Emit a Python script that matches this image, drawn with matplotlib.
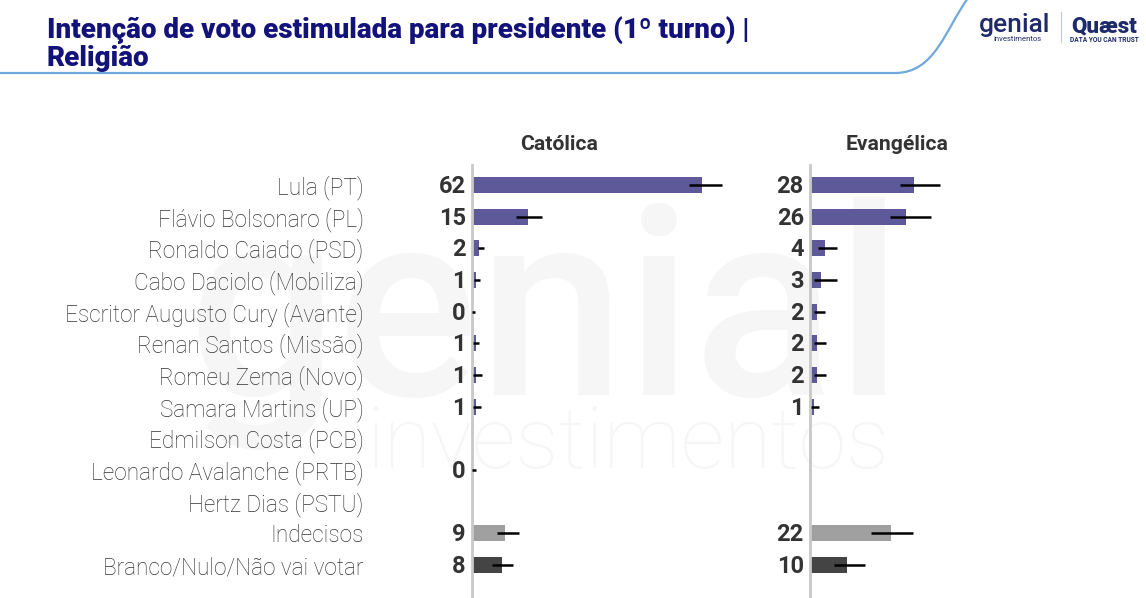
### Intenção de voto estimulada para presidente (1º turno) | Religião

import numpy as np
from matplotlib import pyplot as plt
from matplotlib.path import Path
from matplotlib.patches import PathPatch

################################################################################
### Data
################################################################################

candidates = ['Lula (PT)', 'Flávio Bolsonaro (PL)', 'Ronaldo Caiado (PSD)',
              'Cabo Daciolo (Mobiliza)', 'Escritor Augusto Cury (Avante)',
              'Renan Santos (Missão)', 'Romeu Zema (Novo)', 'Samara Martins (UP)',
              'Edmilson Costa (PCB)', 'Leonardo Avalanche (PRTB)',
              'Hertz Dias (PSTU)', 'Indecisos', 'Branco/Nulo/Não vai votar']

groups = ['Católica', 'Evangélica']

# None = no answer shown for this row
catolica = [62, 15, 2, 1, 0, 1, 1, 1, None, 0, None, 9, 8]
catolica_lo = [58.7, 11.9, 1.5, 0.5, 0.0, 0.3, 0.3, 0.3, None, 0.0, None, 6.7, 5.4]
catolica_hi = [67.6, 18.8, 3.3, 2.2, 0.7, 2.0, 2.7, 2.3, None, 1.2, None, 12.7, 11.2]

evangelica = [28, 26, 4, 3, 2, 2, 2, 1, None, None, None, 22, 10]
evangelica_lo = [24.2, 21.7, 2.2, 1.1, 1.1, 1.0, 1.0, 0.3, None, None, None, 16.5, 6.5]
evangelica_hi = [35.0, 32.7, 7.3, 7.3, 4.0, 4.4, 4.4, 2.4, None, None, None, 27.8, 14.8]

################################################################################
### Style
################################################################################

plt.rcParams['font.family'] = ['Roboto', 'DejaVu Sans']

purple = '#5e5a99'
light_gray = '#a0a0a0'
dark_gray = '#444444'
text_col = '#333333'
navy = '#12127a'

bar_colors = [purple] * 11 + [light_gray, dark_gray]

W, H = 1146, 598
fig = plt.figure(figsize=(W / 100, H / 100), dpi=100)

def fx(px):
    return px / W

def fy(py):
    return 1 - py / H

################################################################################
### Watermark (background axes so it stays behind everything)
################################################################################

bg = fig.add_axes([0, 0, 1, 1], zorder=-5)
bg.axis('off')
bg.set_xlim(0, W)
bg.set_ylim(H, 0)
bg.text(545, 395, 'genial', fontsize=190, color='#f6f6f6',
        ha='center', va='baseline', fontweight='medium')
bg.text(628, 468, 'investimentos', fontsize=62, color='#f6f6f6',
        ha='center', va='baseline', fontweight='light')

################################################################################
### Header
################################################################################

fig.text(fx(47), fy(38), 'Intenção de voto estimulada para presidente (1º turno) |',
         fontsize=20, fontweight='black', color=navy, va='baseline')
fig.text(fx(47), fy(66), 'Religião', fontsize=20, fontweight='black',
         color=navy, va='baseline')

verts = [(fx(0), fy(73)), (fx(895), fy(73)),
         (fx(935), fy(73)), (fx(945), fy(30)), (fx(968), fy(-2))]
codes = [Path.MOVETO, Path.LINETO, Path.CURVE4, Path.CURVE4, Path.CURVE4]
fig.patches.append(PathPatch(Path(verts, codes), transform=fig.transFigure,
                             fill=False, edgecolor='#6fa8dc', lw=1.6))

# logos
fig.text(fx(1015), fy(32), 'genial', fontsize=19, color='#1f2a6b',
         ha='center', va='baseline', fontweight='medium')
fig.text(fx(1018), fy(41), 'investimentos', fontsize=5.5, color='#1f2a6b',
         ha='center', va='baseline')
fig.add_artist(plt.Line2D([fx(1061), fx(1061)], [fy(12), fy(42)],
                          color='#c0c8d8', lw=0.8, transform=fig.transFigure))
fig.text(fx(1104), fy(32), 'Quæst', fontsize=16, color='#1f2a6b',
         ha='center', va='baseline', fontweight='black')
fig.text(fx(1104), fy(42), 'DATA YOU CAN TRUST', fontsize=4.8, color='#1f2a6b',
         ha='center', va='baseline', fontweight='bold')

################################################################################
### Panels
################################################################################

row_px = 31.67
top_px, first_row_px = 165, 185
ylim = ((H - first_row_px) / row_px, -(first_row_px - top_px) / row_px)
y = np.arange(len(candidates))

panels = [(472, catolica, catolica_lo, catolica_hi),
          (810, evangelica, evangelica_lo, evangelica_hi)]

for k, (left_px, vals, lo, hi) in enumerate(panels):
    ax = fig.add_axes([fx(left_px), 0, 174 / W, (H - top_px) / H])
    ax.set_xlim(0, 47)
    ax.set_ylim(*ylim)
    ax.patch.set_alpha(0)

    for i, v in enumerate(vals):
        if v is None:
            continue
        ax.barh(y[i], v, height=0.5, color=bar_colors[i], zorder=2,
                clip_on=False)
        mid = (lo[i] + hi[i]) / 2
        ax.errorbar(mid, y[i], xerr=(hi[i] - lo[i]) / 2, fmt='none',
                    ecolor='black', elinewidth=1.8, capsize=0, zorder=3,
                    clip_on=False)
        ax.annotate(str(v), xy=(0, y[i]), xytext=(-4.5, -1),
                    textcoords='offset points', ha='right', va='center',
                    fontsize=17, fontweight='bold', color=text_col)

    ax.text(23.5, -1.29, groups[k], ha='center', va='center', fontsize=15.2,
            fontweight='bold', color=text_col)

    for s in ['top', 'right', 'bottom']:
        ax.spines[s].set_visible(False)
    ax.spines['left'].set_color('#c8c8c8')
    ax.spines['left'].set_linewidth(2)
    ax.set_xticks([])

    if k == 0:
        ax.set_yticks(y, candidates)
        ax.tick_params(axis='y', length=0, pad=78, labelsize=16.3,
                       labelcolor=text_col)
        for t in ax.get_yticklabels():
            t.set_fontweight('light')
    else:
        ax.set_yticks([])

fig.savefig('out.png', dpi=100)
